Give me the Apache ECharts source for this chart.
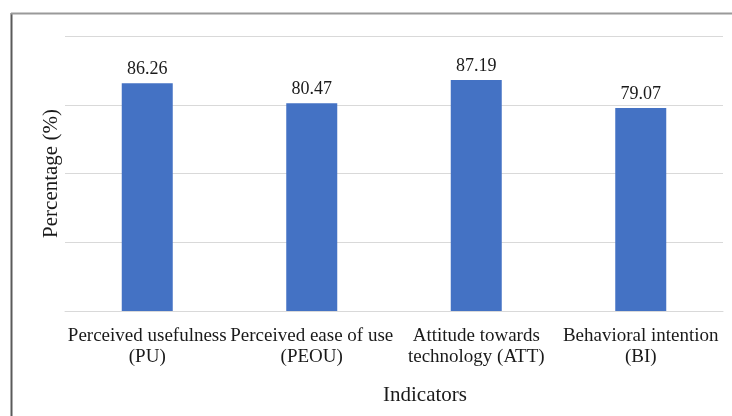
<!DOCTYPE html>
<html>
<head>
<meta charset="utf-8">
<script src="https://cdn.jsdelivr.net/npm/echarts@6/dist/echarts.min.js"></script>
<style>
  html, body { margin: 0; padding: 0; background: #fff; }
  #chart { width: 732px; height: 416px; }
</style>
</head>
<body>
<div id="chart"></div>
<script>
const categories = [
  'Perceived usefulness\n(PU)',
  'Perceived ease of use\n(PEOU)',
  'Attitude towards\ntechnology (ATT)',
  'Behavioral intention\n(BI)',
]
const values = [86.26, 80.47, 87.19, 79.07]
const yMin = 20
const yMax = 100
const yStep = 20

const BAR_COLOR = '#4472C4'
const GRID_COLOR = '#D9D9D9'
const TEXT_COLOR = '#1a1a1a'
const FONT = '"Liberation Serif", "DejaVu Serif", serif'

const chart = echarts.init(document.getElementById('chart'))
chart.setOption({
  animation: false,
  backgroundColor: '#fff',
  grid: {
    top: 36,
    left: 65,
    right: 9,
    bottom: 105,
    containLabel: false,
  },
  xAxis: {
    type: 'category',
    data: categories,
    axisLine: { lineStyle: { color: GRID_COLOR, width: 1 } },
    axisTick: { show: false },
    axisLabel: {
      interval: 0,
      color: TEXT_COLOR,
      fontFamily: FONT,
      fontSize: 19,
      lineHeight: 21,
      margin: 15,
    },
  },
  yAxis: {
    type: 'value',
    min: yMin,
    max: yMax,
    interval: yStep,
    name: 'Percentage (%)',
    nameLocation: 'middle',
    nameRotate: 90,
    nameGap: 3,
    nameTextStyle: {
      color: TEXT_COLOR,
      fontFamily: FONT,
      fontSize: 21,
    },
    axisLine: { show: false },
    axisTick: { show: false },
    axisLabel: { show: false },
    splitLine: { lineStyle: { color: GRID_COLOR, width: 1 } },
  },
  graphic: [
    {
      type: 'line',
      shape: { x1: 11.5, y1: 13, x2: 11.5, y2: 416 },
      style: { stroke: '#5a5a5a', lineWidth: 2 },
    },
    {
      type: 'line',
      shape: { x1: 11, y1: 13.5, x2: 732, y2: 13.5 },
      style: { stroke: '#9a9a9a', lineWidth: 2 },
    },
    {
      type: 'text',
      left: 383,
      top: 385,
      style: {
        text: 'Indicators',
        fill: TEXT_COLOR,
        font: '21px ' + FONT,
      },
    },
  ],
  series: [
    {
      type: 'bar',
      data: values,
      barWidth: 51,
      itemStyle: { color: BAR_COLOR },
      label: {
        show: true,
        position: 'top',
        distance: 5,
        color: TEXT_COLOR,
        fontFamily: FONT,
        fontSize: 18,
      },
    },
  ],
})
</script>
</body>
</html>
